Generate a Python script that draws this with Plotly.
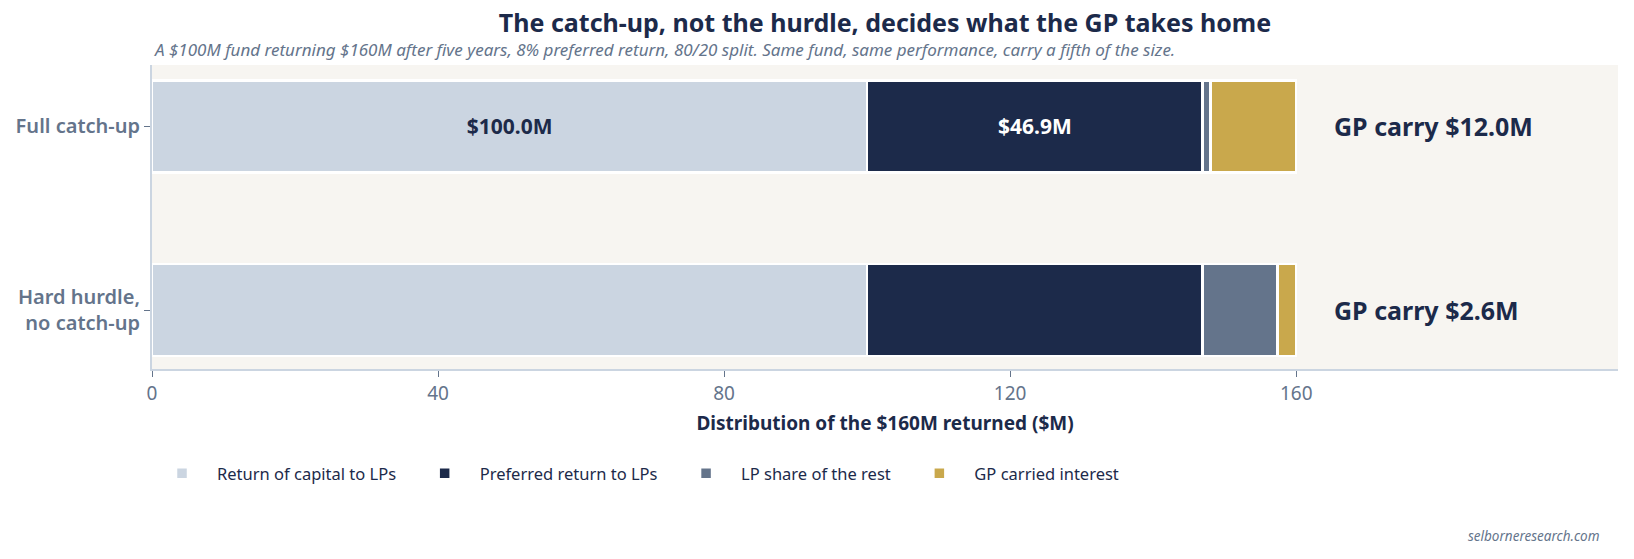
import plotly.graph_objects as go

categories = ["Full catch-up", "Hard hurdle,<br>no catch-up"]
series_names = ["Return of capital to LPs", "Preferred return to LPs", "LP share of the rest", "GP carried interest"]
capital = [100.0, 100.0]
preferred = [46.9, 46.9]
lp_rest = [1.1, 10.5]
gp_carry = [12.0, 2.6]
colors = ["#cbd5e1", "#1c2a4a", "#64748b", "#c9a84c"]
x_ticks = [0, 40, 80, 120, 160]

NAVY = "#1c2a4a"
GRAY = "#64748b"
FONT = "Noto Sans"
PAD = "\u00a0\u00a0"

fig = go.Figure()
values = [capital, preferred, lp_rest, gp_carry]
for i, (name, vals, col) in enumerate(zip(series_names, values, colors)):
    text = [""] * len(vals)
    if i < 2:
        text[0] = f"<b>${vals[0]:.1f}M</b>"
    fig.add_trace(go.Bar(
        y=categories, x=vals, name=name + PAD, orientation="h",
        marker=dict(color=col, line=dict(color="white", width=2.5)),
        text=text, textposition="inside", insidetextanchor="middle",
        textfont=dict(family=FONT, size=21, color=("white" if i == 1 else NAVY)),
        width=0.5,
        hovertemplate="%{y}: %{x}<extra>" + name + "</extra>",
    ))

for cat, g in zip(categories, gp_carry):
    fig.add_annotation(x=165, y=cat, xref="x", yref="y", text=f"<b>GP carry ${g:.1f}M</b>",
                       showarrow=False, xanchor="left", yanchor="middle",
                       font=dict(family=FONT, size=25, color=NAVY))

fig.add_annotation(x=0, y=1.0, xref="paper", yref="paper", yshift=16,
                   text="<i>A $100M fund returning $160M after five years, 8% preferred return, 80/20 split. Same fund, same performance, carry a fifth of the size.</i>",
                   showarrow=False, xanchor="left", yanchor="middle",
                   font=dict(family=FONT, size=17, color=GRAY))
fig.add_annotation(x=1, y=0, xref="paper", yref="paper", yshift=-156, xshift=-16,
                   text="<i>selborneresearch.com</i>", showarrow=False,
                   xanchor="right", yanchor="top",
                   font=dict(family=FONT, size=13.5, color=GRAY))

fig.update_layout(
    barmode="stack",
    width=1634, height=559,
    margin=dict(l=152, r=16, t=65, b=190),
    paper_bgcolor="white", plot_bgcolor="#f7f5f1",
    font=dict(family=FONT, color=NAVY),
    title=dict(text="<b>The catch-up, not the hurdle, decides what the GP takes home</b>",
               x=0.5, xref="paper", xanchor="center", y=1 - 23 / 559, yref="container", yanchor="middle",
               font=dict(family=FONT, size=25, color=NAVY)),
    showlegend=True,
    legend=dict(orientation="h", x=-0.0034, y=-0.286, xanchor="left", yanchor="top",
                font=dict(family=FONT, size=16.5, color=NAVY), traceorder="normal",
                itemwidth=60),
    xaxis=dict(range=[0, 205], tickvals=x_ticks, showgrid=False, zeroline=False,
               showline=True, linecolor="#cbd5e1", linewidth=2,
               ticks="outside", tickcolor=GRAY, ticklen=6,
               tickfont=dict(family=FONT, size=19, color=GRAY),
               title=dict(text="<b>Distribution of the $160M returned ($M)</b>",
                          font=dict(family=FONT, size=19, color=NAVY), standoff=12)),
    yaxis=dict(categoryorder="array", categoryarray=categories[::-1], range=[-0.32, 1.334],
               showgrid=False, zeroline=False, showline=True, linecolor="#cbd5e1", linewidth=2,
               ticks="outside", tickcolor=GRAY, ticklen=6,
               tickfont=dict(family=FONT, size=20, color=GRAY, weight=600)),
)

fig.write_html("out.html", config={"displayModeBar": False},
               post_script="document.body.style.margin='0';")
